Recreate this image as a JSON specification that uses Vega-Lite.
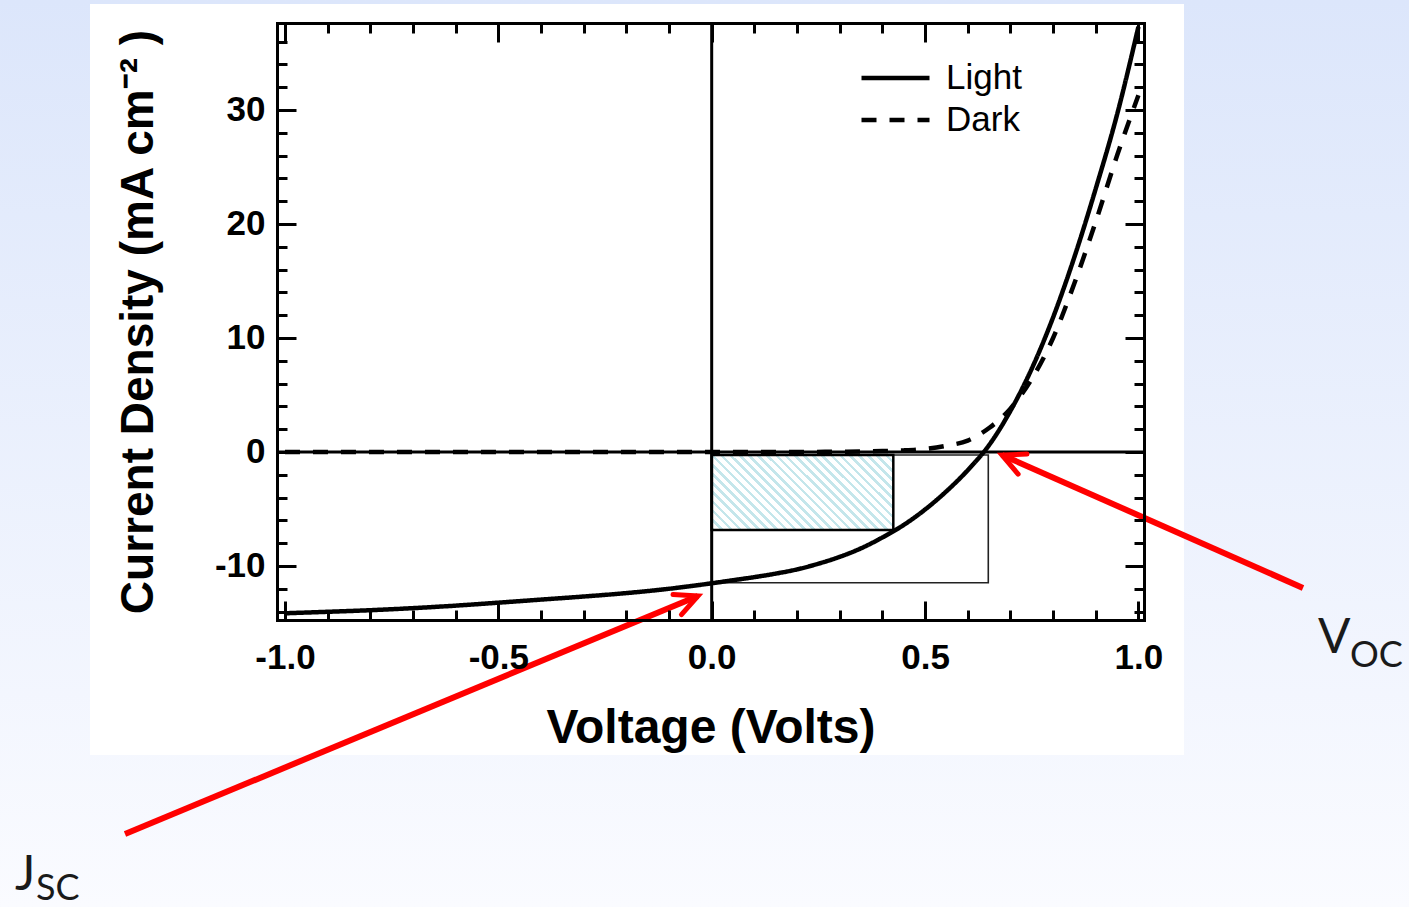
{
  "$schema": "https://vega.github.io/schema/vega-lite/v6.json",
  "width": 867,
  "height": 597,
  "padding": 0,
  "background": "#eef3fc",
  "config": {"view": {"stroke": null}, "font": "Liberation Sans"},
  "resolve": {"axis": {"x": "independent", "y": "independent"}},
  "layer": [
    {
      "data": {"values": [{"V0": -1.6678, "V1": 1.6341, "J0": 39.6475, "J1": -39.914}]},
      "mark": {"type": "rect", "fill": {"gradient": "linear", "x1": 0, "y1": 0, "x2": 0, "y2": 1, "stops": [{"offset": 0, "color": "#dce6fb"}, {"offset": 1, "color": "#fafbff"}]}},
      "encoding": {
        "x": {"field": "V0", "type": "quantitative", "scale": {"domain": [-1.0187, 1.0131], "nice": false, "zero": false},
          "axis": {"orient": "bottom", "values": [-1, -0.5, 0, 0.5, 1], "format": ".1f", "labelExpr": "replace(datum.label,'\u2212','-')", "ticks": false, "tickSize": 0, "labelPadding": 20, "labelFontSize": 35, "labelFont": "Liberation Sans", "labelFontWeight": "bold", "labelColor": "black", "labelFlush": false, "labelOverlap": false, "domain": true, "domainColor": "black", "domainWidth": 3, "domainCap": "square", "grid": false, "title": "Voltage (Volts)", "titleFont": "Liberation Sans", "titleFontSize": 48, "titleFontWeight": "bold", "titleColor": "black", "titlePadding": 29, "zindex": 1}},
        "x2": {"field": "V1"},
        "y": {"field": "J0", "type": "quantitative", "scale": {"domain": [-14.74, 37.63], "nice": false, "zero": false},
          "axis": {"orient": "left", "values": [-10, 0, 10, 20, 30], "labelExpr": "replace(datum.label,'\u2212','-')", "ticks": false, "tickSize": 0, "labelPadding": 12, "labelFontSize": 35, "labelFont": "Liberation Sans", "labelFontWeight": "bold", "labelColor": "black", "labelFlush": false, "labelOverlap": false, "domain": true, "domainColor": "black", "domainWidth": 3, "domainCap": "square", "grid": false, "title": "Current Density (mA cm\u207b\u00b2 )", "titleFont": "Liberation Sans", "titleFontSize": 46, "titleFontWeight": "bold", "titleColor": "black", "titlePadding": 52, "zindex": 1}},
        "y2": {"field": "J1"}
      }
    },
    {
      "data": {"values": [{"V0": -1.4569, "V1": 1.1068, "J0": 39.297, "J1": -26.58}]},
      "mark": {"type": "rect", "fill": "white"},
      "encoding": {
        "x": {"field": "V0", "type": "quantitative", "axis": {"orient": "bottom", "values": [-1, -0.5, 0, 0.5, 1], "labels": false, "domain": false, "grid": false, "ticks": true, "tickSize": -19, "tickWidth": 3, "tickColor": "black", "title": null, "zindex": 1}},
        "x2": {"field": "V1"},
        "y": {"field": "J0", "type": "quantitative", "axis": {"orient": "left", "values": [-10, 0, 10, 20, 30], "labels": false, "domain": false, "grid": false, "ticks": true, "tickSize": -19, "tickWidth": 3, "tickColor": "black", "title": null, "zindex": 1}},
        "y2": {"field": "J1"}
      }
    },
    {
      "data": {"values": [{"V0": 0, "V1": 0.6482, "J0": -0.265, "J1": -11.47}]},
      "mark": {"type": "rect", "filled": false, "color": "#222222", "strokeWidth": 1.6},
      "encoding": {
        "x": {"field": "V0", "type": "quantitative", "axis": {"orient": "bottom", "values": [-1, -0.9, -0.8, -0.7, -0.6, -0.5, -0.4, -0.3, -0.2, -0.1, 0, 0.1, 0.2, 0.3, 0.4, 0.5, 0.6, 0.7, 0.8, 0.9, 1], "labels": false, "domain": false, "grid": false, "ticks": true, "tickSize": -10, "tickWidth": 3, "tickColor": "black", "title": null, "zindex": 1}},
        "x2": {"field": "V1"},
        "y": {"field": "J0", "type": "quantitative", "axis": {"orient": "left", "values": [-14, -12, -10, -8, -6, -4, -2, 0, 2, 4, 6, 8, 10, 12, 14, 16, 18, 20, 22, 24, 26, 28, 30, 32, 34, 36], "labels": false, "domain": false, "grid": false, "ticks": true, "tickSize": -10, "tickWidth": 3, "tickColor": "black", "title": null, "zindex": 1}},
        "y2": {"field": "J1"}
      }
    },
    {
      "data": {"values": [{"V0": 0, "V1": 0.4256, "J0": -0.265, "J1": -6.84}]},
      "mark": {"type": "rect", "stroke": "black", "strokeWidth": 2.5, "fill": {"gradient": "linear", "x1": 0, "y1": 1, "x2": 1.207, "y2": 0.5015, "stops": [
        {"offset": 0, "color": "#c4e6eb"}, {"offset": 0.0143, "color": "#c4e6eb"}, {"offset": 0.0143, "color": "#ffffff"}, {"offset": 0.0357, "color": "#ffffff"},
        {"offset": 0.0357, "color": "#c4e6eb"}, {"offset": 0.05, "color": "#c4e6eb"}, {"offset": 0.05, "color": "#ffffff"}, {"offset": 0.0714, "color": "#ffffff"},
        {"offset": 0.0714, "color": "#c4e6eb"}, {"offset": 0.0857, "color": "#c4e6eb"}, {"offset": 0.0857, "color": "#ffffff"}, {"offset": 0.1071, "color": "#ffffff"},
        {"offset": 0.1071, "color": "#c4e6eb"}, {"offset": 0.1214, "color": "#c4e6eb"}, {"offset": 0.1214, "color": "#ffffff"}, {"offset": 0.1429, "color": "#ffffff"},
        {"offset": 0.1429, "color": "#c4e6eb"}, {"offset": 0.1571, "color": "#c4e6eb"}, {"offset": 0.1571, "color": "#ffffff"}, {"offset": 0.1786, "color": "#ffffff"},
        {"offset": 0.1786, "color": "#c4e6eb"}, {"offset": 0.1929, "color": "#c4e6eb"}, {"offset": 0.1929, "color": "#ffffff"}, {"offset": 0.2143, "color": "#ffffff"},
        {"offset": 0.2143, "color": "#c4e6eb"}, {"offset": 0.2286, "color": "#c4e6eb"}, {"offset": 0.2286, "color": "#ffffff"}, {"offset": 0.25, "color": "#ffffff"},
        {"offset": 0.25, "color": "#c4e6eb"}, {"offset": 0.2643, "color": "#c4e6eb"}, {"offset": 0.2643, "color": "#ffffff"}, {"offset": 0.2857, "color": "#ffffff"},
        {"offset": 0.2857, "color": "#c4e6eb"}, {"offset": 0.3, "color": "#c4e6eb"}, {"offset": 0.3, "color": "#ffffff"}, {"offset": 0.3214, "color": "#ffffff"},
        {"offset": 0.3214, "color": "#c4e6eb"}, {"offset": 0.3357, "color": "#c4e6eb"}, {"offset": 0.3357, "color": "#ffffff"}, {"offset": 0.3571, "color": "#ffffff"},
        {"offset": 0.3571, "color": "#c4e6eb"}, {"offset": 0.3714, "color": "#c4e6eb"}, {"offset": 0.3714, "color": "#ffffff"}, {"offset": 0.3929, "color": "#ffffff"},
        {"offset": 0.3929, "color": "#c4e6eb"}, {"offset": 0.4071, "color": "#c4e6eb"}, {"offset": 0.4071, "color": "#ffffff"}, {"offset": 0.4286, "color": "#ffffff"},
        {"offset": 0.4286, "color": "#c4e6eb"}, {"offset": 0.4429, "color": "#c4e6eb"}, {"offset": 0.4429, "color": "#ffffff"}, {"offset": 0.4643, "color": "#ffffff"},
        {"offset": 0.4643, "color": "#c4e6eb"}, {"offset": 0.4786, "color": "#c4e6eb"}, {"offset": 0.4786, "color": "#ffffff"}, {"offset": 0.5, "color": "#ffffff"},
        {"offset": 0.5, "color": "#c4e6eb"}, {"offset": 0.5143, "color": "#c4e6eb"}, {"offset": 0.5143, "color": "#ffffff"}, {"offset": 0.5357, "color": "#ffffff"},
        {"offset": 0.5357, "color": "#c4e6eb"}, {"offset": 0.55, "color": "#c4e6eb"}, {"offset": 0.55, "color": "#ffffff"}, {"offset": 0.5714, "color": "#ffffff"},
        {"offset": 0.5714, "color": "#c4e6eb"}, {"offset": 0.5857, "color": "#c4e6eb"}, {"offset": 0.5857, "color": "#ffffff"}, {"offset": 0.6071, "color": "#ffffff"},
        {"offset": 0.6071, "color": "#c4e6eb"}, {"offset": 0.6214, "color": "#c4e6eb"}, {"offset": 0.6214, "color": "#ffffff"}, {"offset": 0.6429, "color": "#ffffff"},
        {"offset": 0.6429, "color": "#c4e6eb"}, {"offset": 0.6571, "color": "#c4e6eb"}, {"offset": 0.6571, "color": "#ffffff"}, {"offset": 0.6786, "color": "#ffffff"},
        {"offset": 0.6786, "color": "#c4e6eb"}, {"offset": 0.6929, "color": "#c4e6eb"}, {"offset": 0.6929, "color": "#ffffff"}, {"offset": 0.7143, "color": "#ffffff"},
        {"offset": 0.7143, "color": "#c4e6eb"}, {"offset": 0.7286, "color": "#c4e6eb"}, {"offset": 0.7286, "color": "#ffffff"}, {"offset": 0.75, "color": "#ffffff"},
        {"offset": 0.75, "color": "#c4e6eb"}, {"offset": 0.7643, "color": "#c4e6eb"}, {"offset": 0.7643, "color": "#ffffff"}, {"offset": 0.7857, "color": "#ffffff"},
        {"offset": 0.7857, "color": "#c4e6eb"}, {"offset": 0.8, "color": "#c4e6eb"}, {"offset": 0.8, "color": "#ffffff"}, {"offset": 0.8214, "color": "#ffffff"},
        {"offset": 0.8214, "color": "#c4e6eb"}, {"offset": 0.8357, "color": "#c4e6eb"}, {"offset": 0.8357, "color": "#ffffff"}, {"offset": 0.8571, "color": "#ffffff"},
        {"offset": 0.8571, "color": "#c4e6eb"}, {"offset": 0.8714, "color": "#c4e6eb"}, {"offset": 0.8714, "color": "#ffffff"}, {"offset": 0.8929, "color": "#ffffff"},
        {"offset": 0.8929, "color": "#c4e6eb"}, {"offset": 0.9071, "color": "#c4e6eb"}, {"offset": 0.9071, "color": "#ffffff"}, {"offset": 0.9286, "color": "#ffffff"},
        {"offset": 0.9286, "color": "#c4e6eb"}, {"offset": 0.9429, "color": "#c4e6eb"}, {"offset": 0.9429, "color": "#ffffff"}, {"offset": 0.9643, "color": "#ffffff"},
        {"offset": 0.9643, "color": "#c4e6eb"}, {"offset": 0.9786, "color": "#c4e6eb"}, {"offset": 0.9786, "color": "#ffffff"}, {"offset": 1, "color": "#ffffff"}
      ]}},
      "encoding": {
        "x": {"field": "V0", "type": "quantitative", "axis": {"orient": "top", "values": [-1, -0.5, 0, 0.5, 1], "labels": false, "domain": true, "domainColor": "black", "domainWidth": 3, "domainCap": "square", "grid": false, "ticks": true, "tickSize": -19, "tickWidth": 3, "tickColor": "black", "title": null, "zindex": 1}},
        "x2": {"field": "V1"},
        "y": {"field": "J0", "type": "quantitative", "axis": {"orient": "right", "values": [-10, 0, 10, 20, 30], "labels": false, "domain": true, "domainColor": "black", "domainWidth": 3, "domainCap": "square", "grid": false, "ticks": true, "tickSize": -19, "tickWidth": 3, "tickColor": "black", "title": null, "zindex": 1}},
        "y2": {"field": "J1"}
      }
    },
    {
      "data": {"values": [{}]},
      "mark": {"type": "rule", "color": "black", "strokeWidth": 3},
      "encoding": {"y": {"datum": 0, "type": "quantitative", "axis": null}}
    },
    {
      "data": {"values": [{}]},
      "mark": {"type": "rule", "color": "black", "strokeWidth": 3},
      "encoding": {"x": {"datum": 0, "type": "quantitative", "axis": null}}
    },
    {
      "data": {"values": [
        {"V": -1.0, "J": -14.15, "series": "Light"}, {"V": -0.9, "J": -14.02, "series": "Light"}, {"V": -0.8, "J": -13.88, "series": "Light"}, {"V": -0.7, "J": -13.7, "series": "Light"},
        {"V": -0.6, "J": -13.48, "series": "Light"}, {"V": -0.5, "J": -13.22, "series": "Light"}, {"V": -0.4, "J": -12.95, "series": "Light"}, {"V": -0.3, "J": -12.68, "series": "Light"},
        {"V": -0.2, "J": -12.38, "series": "Light"}, {"V": -0.1, "J": -12.0, "series": "Light"}, {"V": 0.0, "J": -11.52, "series": "Light"}, {"V": 0.05, "J": -11.25, "series": "Light"},
        {"V": 0.1, "J": -10.98, "series": "Light"}, {"V": 0.15, "J": -10.67, "series": "Light"}, {"V": 0.2, "J": -10.3, "series": "Light"}, {"V": 0.25, "J": -9.8, "series": "Light"},
        {"V": 0.3, "J": -9.2, "series": "Light"}, {"V": 0.35, "J": -8.45, "series": "Light"}, {"V": 0.4, "J": -7.5, "series": "Light"}, {"V": 0.45, "J": -6.4, "series": "Light"},
        {"V": 0.5, "J": -5.05, "series": "Light"}, {"V": 0.55, "J": -3.45, "series": "Light"}, {"V": 0.6, "J": -1.6, "series": "Light"},
        {"V": 0.65, "J": 0.6, "series": "Light"}, {"V": 0.7, "J": 3.6, "series": "Light"}, {"V": 0.75, "J": 7.3, "series": "Light"}, {"V": 0.8, "J": 11.8, "series": "Light"},
        {"V": 0.85, "J": 17.1, "series": "Light"}, {"V": 0.9, "J": 23.1, "series": "Light"}, {"V": 0.95, "J": 29.6, "series": "Light"}, {"V": 1.0, "J": 37.3, "series": "Light"},
        {"V": -1.0, "J": 0.0, "series": "Dark"}, {"V": -0.5, "J": 0.0, "series": "Dark"}, {"V": 0.0, "J": 0.0, "series": "Dark"}, {"V": 0.2, "J": 0.0, "series": "Dark"},
        {"V": 0.3, "J": 0.02, "series": "Dark"}, {"V": 0.4, "J": 0.08, "series": "Dark"}, {"V": 0.45, "J": 0.14, "series": "Dark"}, {"V": 0.5, "J": 0.27, "series": "Dark"},
        {"V": 0.55, "J": 0.55, "series": "Dark"}, {"V": 0.6, "J": 1.0, "series": "Dark"}, {"V": 0.65, "J": 2.1, "series": "Dark"}, {"V": 0.7, "J": 3.8, "series": "Dark"},
        {"V": 0.75, "J": 6.4, "series": "Dark"}, {"V": 0.8, "J": 10.0, "series": "Dark"}, {"V": 0.85, "J": 14.8, "series": "Dark"}, {"V": 0.9, "J": 20.2, "series": "Dark"},
        {"V": 0.95, "J": 26.0, "series": "Dark"}, {"V": 1.0, "J": 31.3, "series": "Dark"}
      ]},
      "mark": {"type": "line", "color": "black", "strokeWidth": 4.5, "interpolate": "monotone"},
      "encoding": {
        "x": {"field": "V", "type": "quantitative", "scale": {"domain": [-1.0187, 1.0131], "nice": false, "zero": false}, "axis": {"orient": "top", "values": [-1, -0.9, -0.8, -0.7, -0.6, -0.5, -0.4, -0.3, -0.2, -0.1, 0, 0.1, 0.2, 0.3, 0.4, 0.5, 0.6, 0.7, 0.8, 0.9, 1], "labels": false, "domain": false, "grid": false, "ticks": true, "tickSize": -10, "tickWidth": 3, "tickColor": "black", "title": null, "zindex": 1}},
        "y": {"field": "J", "type": "quantitative", "scale": {"domain": [-14.74, 37.63], "nice": false, "zero": false}, "axis": {"orient": "right", "values": [-14, -12, -10, -8, -6, -4, -2, 0, 2, 4, 6, 8, 10, 12, 14, 16, 18, 20, 22, 24, 26, 28, 30, 32, 34, 36], "labels": false, "domain": false, "grid": false, "ticks": true, "tickSize": -10, "tickWidth": 3, "tickColor": "black", "title": null, "zindex": 1}},
        "strokeDash": {"field": "series", "type": "nominal", "scale": {"domain": ["Light", "Dark"], "range": [[1, 0], [15, 13]]},
          "legend": {"title": null, "orient": "none", "legendX": 582, "legendY": 34, "symbolType": "stroke", "symbolSize": 4624, "symbolStrokeWidth": 4.5, "symbolStrokeColor": "black", "labelFontSize": 35, "labelFont": "Liberation Sans", "labelColor": "black", "labelOffset": 14, "rowPadding": 0, "clipHeight": 42, "padding": 0}}
      }
    },
    {
      "data": {"values": [
        {"V0": -1.3749, "J0": -33.51, "V1": -0.0321, "J1": -12.63},
        {"V0": 1.3857, "J0": -11.93, "V1": 0.6803, "J1": -0.265}
      ]},
      "mark": {"type": "rule", "color": "#ff0000", "strokeWidth": 6},
      "encoding": {
        "x": {"field": "V0", "type": "quantitative", "axis": null},
        "y": {"field": "J0", "type": "quantitative", "axis": null},
        "x2": {"field": "V1"},
        "y2": {"field": "J1"}
      }
    },
    {
      "data": {"values": [{"V": -0.0321, "J": -12.63}]},
      "mark": {"type": "point", "shape": "M -0.8988 -0.4384 L 0 0 L -0.8988 0.4384", "size": 2500, "filled": false, "stroke": "#ff0000", "strokeWidth": 5, "opacity": 1, "strokeCap": "round", "strokeJoin": "miter", "angle": 337.45},
      "encoding": {
        "x": {"field": "V", "type": "quantitative", "axis": null},
        "y": {"field": "J", "type": "quantitative", "axis": null}
      }
    },
    {
      "data": {"values": [{"V": 0.6803, "J": -0.265}]},
      "mark": {"type": "point", "shape": "M -0.8988 -0.4384 L 0 0 L -0.8988 0.4384", "size": 2500, "filled": false, "stroke": "#ff0000", "strokeWidth": 5, "opacity": 1, "strokeCap": "round", "strokeJoin": "miter", "angle": 203.84},
      "encoding": {
        "x": {"field": "V", "type": "quantitative", "axis": null},
        "y": {"field": "J", "type": "quantitative", "axis": null}
      }
    },
    {
      "data": {"values": [{"V": -1.6327, "J": -38.4, "label": "J"}, {"V": 1.4208, "J": -17.63, "label": "V"}]},
      "mark": {"type": "text", "font": "Lato", "fontSize": 48, "align": "left", "baseline": "alphabetic", "color": "#1a1a1a"},
      "encoding": {
        "x": {"field": "V", "type": "quantitative", "axis": null},
        "y": {"field": "J", "type": "quantitative", "axis": null},
        "text": {"field": "label"}
      }
    },
    {
      "data": {"values": [{"V": -1.5835, "J": -39.3, "label": "SC"}, {"V": 1.4958, "J": -18.86, "label": "OC"}]},
      "mark": {"type": "text", "font": "Lato", "fontSize": 36, "align": "left", "baseline": "alphabetic", "color": "#1a1a1a"},
      "encoding": {
        "x": {"field": "V", "type": "quantitative", "axis": null},
        "y": {"field": "J", "type": "quantitative", "axis": null},
        "text": {"field": "label"}
      }
    }
  ]
}
